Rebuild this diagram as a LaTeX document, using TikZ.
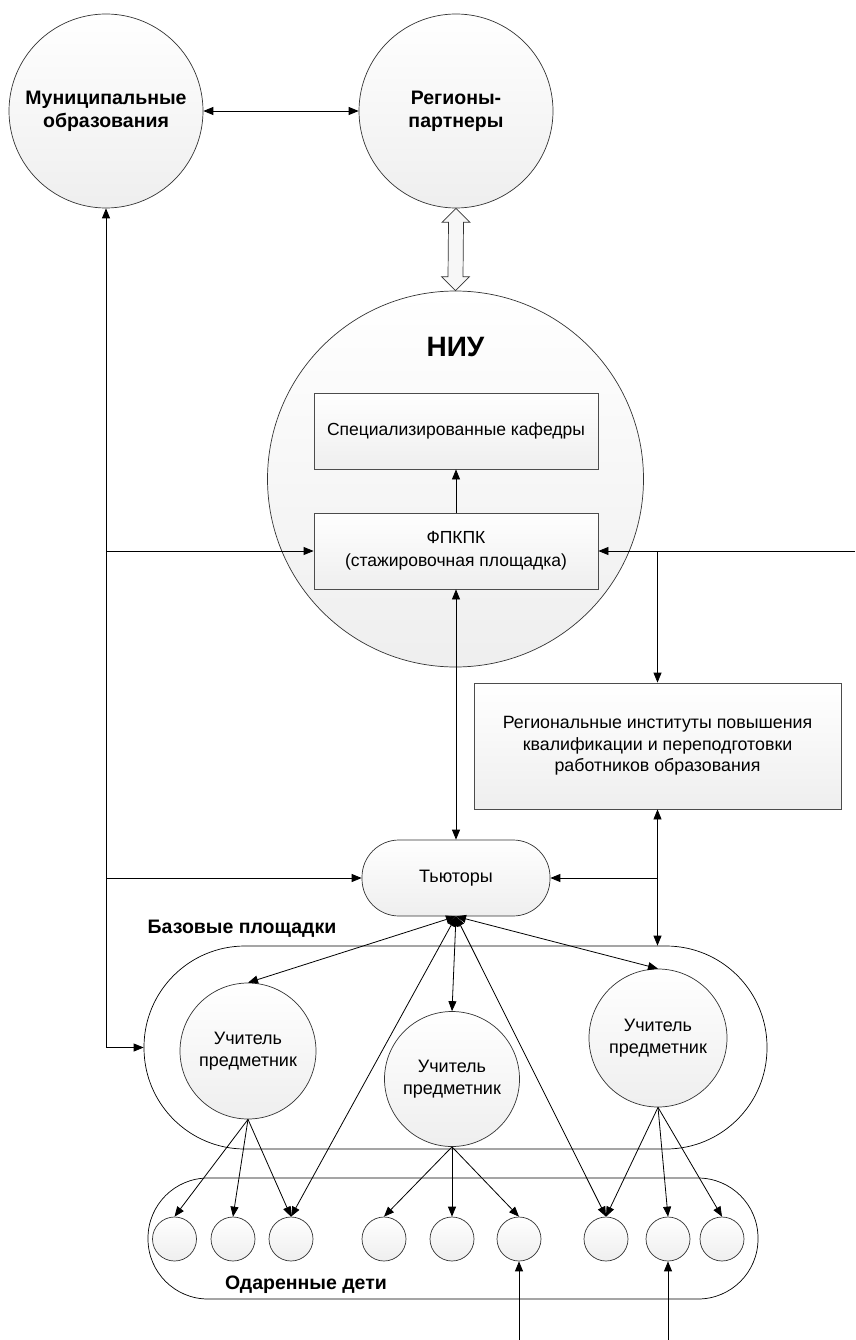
\documentclass[tikz,border=0pt]{standalone}
\usepackage{fontspec}
\setmainfont{Liberation Sans}
\usetikzlibrary{arrows.meta,calc}
\begin{document}
\begin{tikzpicture}[x=1pt,y=-1pt,
  shade/.style={top color=white,bottom color=gray!13},
  bigcirc/.style={circle,draw=black!80,line width=0.7pt,shade,inner sep=0pt,align=center},
  boxnode/.style={rectangle,draw=black!70,line width=0.8pt,shade,inner sep=0pt,align=center},
  container/.style={rectangle,draw=black,line width=0.7pt,inner sep=0pt},
  kid/.style={circle,draw=black!80,line width=0.7pt,shade,minimum size=44pt,inner sep=0pt},
  con/.style={line width=0.8pt,-{Triangle[length=10pt,width=8pt]}},
  bicon/.style={line width=0.8pt,{Triangle[length=10pt,width=8pt]}-{Triangle[length=10pt,width=8pt]}},
  boldlbl/.style={font=\fontsize{19.5}{22}\selectfont\bfseries,inner sep=0pt}
]
\useasboundingbox (0,0) rectangle (855,1340);
% top circles
\node[bigcirc,minimum size=194pt,font=\fontsize{19.5}{23}\selectfont\bfseries] (mun) at (106,111) {Муниципальные\\образования};
\node[bigcirc,minimum size=194pt,font=\fontsize{19.5}{23}\selectfont\bfseries] (reg) at (456,111) {Регионы-\\партнеры};
% NIU
\node[bigcirc,minimum size=376pt] (niu) at (455.5,479) {};
\node[inner sep=0pt,font=\fontsize{28}{30}\selectfont\bfseries] (niul) at (455.5,347) {НИУ};
\node[boxnode,minimum width=284pt,minimum height=76pt,font=\fontsize{17.5}{23}\selectfont] (spec) at (456,431) {Специализированные кафедры};
\node[boxnode,minimum width=284pt,minimum height=76pt,font=\fontsize{17.5}{23}\selectfont] (fpk) at (456,551) {ФПКПК\\(стажировочная площадка)};
% regional institutes
\node[boxnode,minimum width=367pt,minimum height=126pt,font=\fontsize{17.8}{21.5}\selectfont] (rip) at (657.5,746) {Региональные институты повышения\\квалификации и переподготовки\\работников образования};
% tutors
\node[rectangle,rounded corners=37pt,draw=black!80,line width=0.7pt,shade,minimum width=188pt,minimum height=76pt,inner sep=0pt,font=\fontsize{18}{20}\selectfont] (tut) at (456,878) {Тьюторы};
% base platforms
\node[container,rounded corners=101pt,minimum width=623pt,minimum height=203pt] (bas) at (455.5,1047.5) {};
\node[boldlbl] (basl) at (242,929) {Базовые площадки};
\node[bigcirc,minimum size=136pt,font=\fontsize{18}{22}\selectfont] (t1) at (248,1051) {Учитель\\предметник};
\node[bigcirc,minimum size=135pt,font=\fontsize{18}{22}\selectfont] (t2) at (452,1079) {Учитель\\предметник};
\node[bigcirc,minimum size=138pt,font=\fontsize{18}{22}\selectfont] (t3) at (658,1038) {Учитель\\предметник};
% gifted children
\node[container,rounded corners=60pt,minimum width=610pt,minimum height=121pt] (gift) at (453,1238.5) {};
\node[boldlbl] (giftl) at (306,1285) {Одаренные дети};
\foreach \i/\x in {1/174.5,2/233,3/291,4/384,5/452,6/519,7/606,8/668,9/722}
  \node[kid] (c\i) at (\x,1239) {};
% free ends
\coordinate (rin) at (855,551);
\coordinate (b1) at (519,1340);
\coordinate (b2) at (668,1340);
\coordinate (lcorner) at (mun.south |- bas.west);
% connectors
\draw[bicon] (mun.east) -- (reg.west);
\draw[line width=0.7pt,draw=black!80,fill=gray!6]
  (reg.south) -- ($(reg.south)+(14,14)$) -- ($(reg.south)+(7.5,14)$)
  -- ($(niu.north)+(7.5,-14)$) -- ($(niu.north)+(14,-14)$) -- (niu.north)
  -- ($(niu.north)+(-14,-14)$) -- ($(niu.north)+(-7.5,-14)$)
  -- ($(reg.south)+(-7.5,14)$) -- ($(reg.south)+(-14,14)$) -- cycle;
\draw[con] (fpk.north) -- (spec.south);
\draw[con] (lcorner) -- (mun.south);
\draw[con] (lcorner) -- (bas.west);
\draw[con] (mun.south |- fpk.west) -- (fpk.west);
\draw[con] (mun.south |- tut.west) -- (tut.west);
\draw[con] (rin) -- (fpk.east);
\draw[con] (rip.north |- fpk.east) -- (rip.north);
\draw[bicon] (fpk.south) -- (tut.north);
\draw[bicon] (rip.south) -- (rip.south |- bas.north);
\draw[con] (rip.south |- tut.east) -- (tut.east);
\foreach \t in {t1,t2,t3,c3,c7}
  \draw[bicon] (tut.south) -- (\t.north);
\foreach \c in {c1,c2,c3} \draw[con] (t1.south) -- (\c.north);
\foreach \c in {c4,c5,c6} \draw[con] (t2.south) -- (\c.north);
\foreach \c in {c7,c8,c9} \draw[con] (t3.south) -- (\c.north);
\draw[con] (b1) -- (c6.south);
\draw[con] (b2) -- (c8.south);
\end{tikzpicture}
\end{document}
